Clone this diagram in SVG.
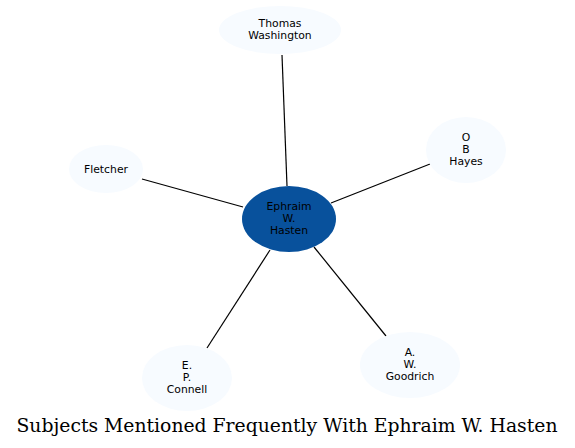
<svg xmlns="http://www.w3.org/2000/svg" width="575" height="448" viewBox="0 0 575 448">
<style>
.n{fill:#f7fbff;stroke:none}
.c{fill:#08519c;stroke:none}
.t{font-family:"DejaVu Sans",sans-serif;font-size:10.8px;text-anchor:middle;fill:#000}
.e{stroke:#000;stroke-width:1.2;fill:none}
.title{font-family:"DejaVu Serif",serif;font-size:18.8px;text-anchor:middle;fill:#000}
</style>
<rect width="575" height="448" fill="#fff"/>
<g id="connectors">
<line class="e" x1="287" y1="186" x2="282" y2="55"/>
<line class="e" x1="243" y1="207" x2="142" y2="179"/>
<line class="e" x1="331" y1="203" x2="430" y2="164"/>
<line class="e" x1="270" y1="250" x2="207" y2="348"/>
<line class="e" x1="314" y1="247" x2="386" y2="336"/>
</g>
<g id="thomas">
<ellipse class="n" cx="280" cy="30" rx="61" ry="24"/>
<text class="t" x="280" y="27">Thomas</text>
<text class="t" x="280" y="39">Washington</text>
</g>
<g id="fletcher">
<ellipse class="n" cx="106" cy="169" rx="37" ry="24"/>
<text class="t" x="106" y="172.5">Fletcher</text>
</g>
<g id="hayes">
<ellipse class="n" cx="466" cy="150" rx="40" ry="33"/>
<text class="t" x="466" y="141">O</text>
<text class="t" x="466" y="153">B</text>
<text class="t" x="466" y="165">Hayes</text>
</g>
<g id="ephraim">
<ellipse class="c" cx="289" cy="219" rx="47" ry="33"/>
<text class="t" x="289" y="210">Ephraim</text>
<text class="t" x="289" y="222">W.</text>
<text class="t" x="289" y="234">Hasten</text>
</g>
<g id="connell">
<ellipse class="n" cx="187" cy="378" rx="45" ry="33"/>
<text class="t" x="187" y="369">E.</text>
<text class="t" x="187" y="381">P.</text>
<text class="t" x="187" y="393">Connell</text>
</g>
<g id="goodrich">
<ellipse class="n" cx="410" cy="365" rx="50" ry="33"/>
<text class="t" x="410" y="356">A.</text>
<text class="t" x="410" y="368">W.</text>
<text class="t" x="410" y="380">Goodrich</text>
</g>
<text class="title" x="287" y="432">Subjects Mentioned Frequently With Ephraim W. Hasten</text>
</svg>
